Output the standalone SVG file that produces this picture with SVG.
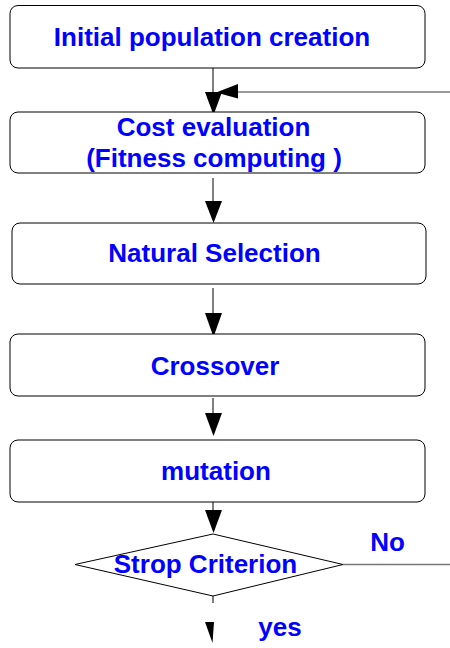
<svg xmlns="http://www.w3.org/2000/svg" width="450" height="648" viewBox="0 0 450 648">
<style>
.box{fill:#fff;stroke:#000;stroke-width:1}
.t{font-family:"Liberation Sans",Arial,sans-serif;font-weight:bold;font-size:26px;fill:#0000ff;text-anchor:middle}
.ln{stroke:#000;stroke-width:1;fill:none}
.gl{stroke:#777;stroke-width:1.5;fill:none}
.ah{fill:#000;stroke:none}
</style>
<rect width="450" height="648" fill="#fff"/>
<g id="connectors">
<line class="ln" x1="213" y1="68" x2="213" y2="95"/>
<line class="gl" x1="237" y1="92" x2="450" y2="92"/>
<polygon class="ah" points="238,84 238,98.5 216,92.5"/>
<polygon class="ah" points="205,92 222,92 213.5,115"/>
<line class="ln" x1="213" y1="178" x2="213" y2="202"/>
<polygon class="ah" points="205,201 222,201 213.5,223"/>
<line class="ln" x1="213" y1="288" x2="213" y2="314"/>
<polygon class="ah" points="205,313 222,313 213.5,337"/>
<line class="ln" x1="213" y1="398" x2="213" y2="414"/>
<polygon class="ah" points="205,413 222,413 213.5,436"/>
<line class="ln" x1="213" y1="499" x2="213" y2="511"/>
<polygon class="ah" points="205,510 222,510 213.5,533"/>
<line class="gl" x1="343" y1="564.5" x2="450" y2="564.5"/>
<line class="ln" x1="213" y1="596" x2="213" y2="603"/>
<polygon class="ah" points="205,622 214,622 212.5,643"/>
</g>
<g id="n1"><rect class="box" x="10" y="5.5" width="415" height="62.5" rx="8"/><text class="t" x="212" y="46">Initial population creation</text></g>
<g id="n2"><rect class="box" x="10" y="112" width="415" height="61" rx="8"/><text class="t" x="213.5" y="136">Cost evaluation</text><text class="t" x="214" y="167">(Fitness computing )</text></g>
<g id="n3"><rect class="box" x="12" y="223" width="414" height="61" rx="8"/><text class="t" x="214.5" y="262">Natural Selection</text></g>
<g id="n4"><rect class="box" x="10" y="334" width="415" height="62" rx="8"/><text class="t" x="215" y="375">Crossover</text></g>
<g id="n5"><rect class="box" x="10" y="440" width="415" height="62" rx="8"/><text class="t" x="216" y="480">mutation</text></g>
<g id="n6"><polygon class="box" points="213,534 343,564.5 213,596 75,564.5"/><text class="t" x="205.5" y="573">Strop Criterion</text></g>
<g id="labels"><text class="t" x="387.5" y="551">No</text><text class="t" x="280" y="636">yes</text></g>
</svg>
